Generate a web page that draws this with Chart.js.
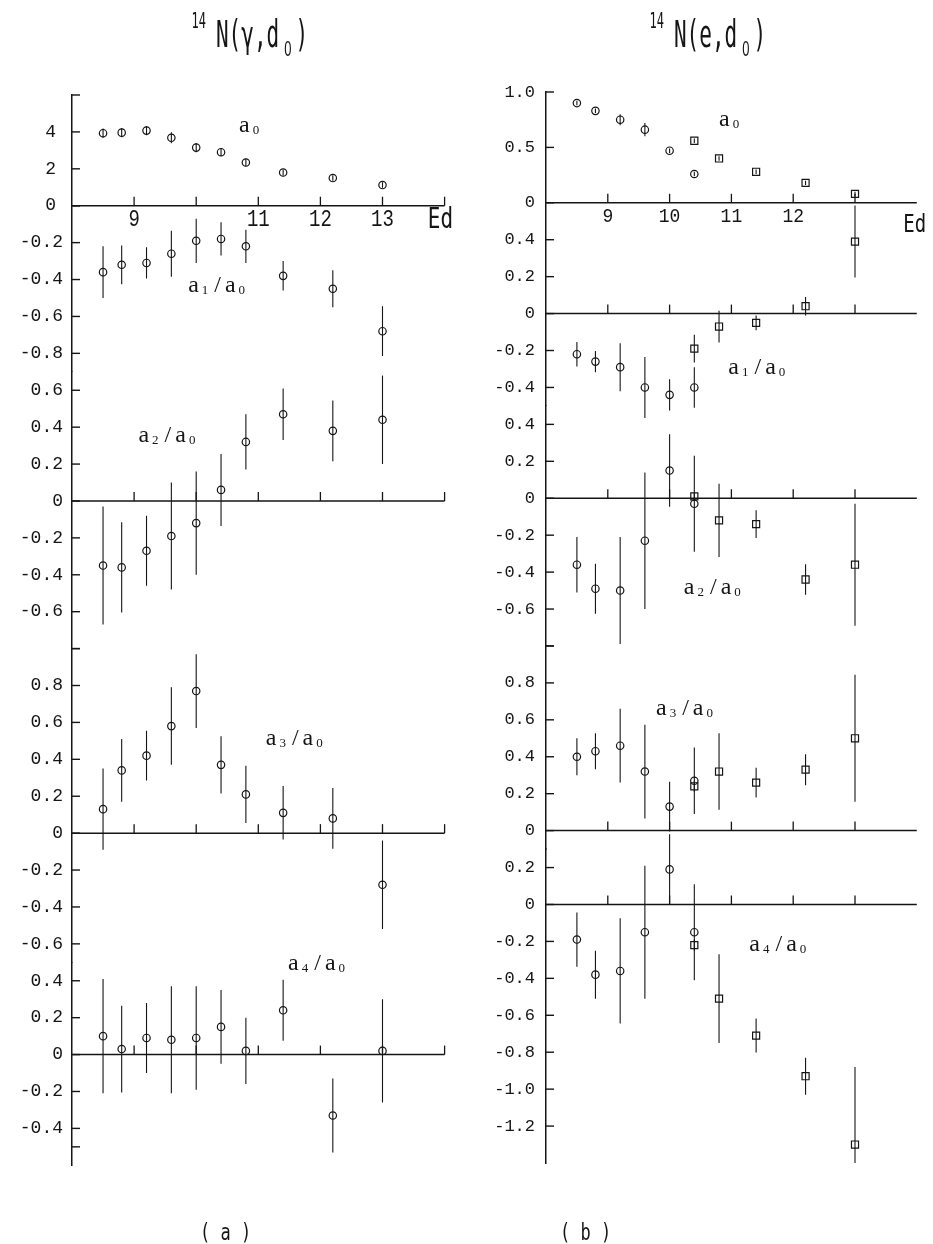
<!DOCTYPE html>
<html>
<head>
<meta charset="utf-8">
<script src="https://cdn.jsdelivr.net/npm/chart.js@4/dist/chart.umd.min.js"></script>
<style>
  html, body { margin: 0; padding: 0; background: #fff; }
  #fig { position: relative; width: 933px; height: 1244px; overflow: hidden; background: #fff; }
  #fig canvas { position: absolute; top: 0; }
  #colA { left: 0; }
  #colB { left: 470px; }
  .cap { position: absolute; font-family: 'DejaVu Sans Mono', monospace; color: #151515; white-space: pre; line-height: 1; transform-origin: 0 0; }
  .title { font-size: 21px; top: 17px; transform: scaleY(1.75); }
  .title .sup { font-size: 12px; position: relative; top: -11px; margin-right: 10px; }
  .title .sub { font-family: 'Liberation Sans', sans-serif; font-size: 13px; position: relative; top: 5px; margin: 0 4px 0 5px; }
  .tag { font-size: 17px; top: 1220px; transform: scaleY(1.4); }
</style>
</head>
<body>
<div id="fig">
  <canvas id="colA" width="470" height="1244"></canvas>
  <canvas id="colB" width="463" height="1244"></canvas>
  <div class="cap title" style="left:191.5px"><span class="sup">14</span>N(γ,d<span class="sub">0</span>)</div>
  <div class="cap title" style="left:649.5px"><span class="sup">14</span>N(e,d<span class="sub">0</span>)</div>
  <div class="cap tag" style="left:200px">( a )</div>
  <div class="cap tag" style="left:560px">( b )</div>
</div>
<script>
// Legendre coefficients a0 and ak/a0 of the deuteron angular distributions,
// plotted against the deuteron energy Ed (MeV).

const energyTicks = [9, 10, 11, 12, 13];
const gammaEnergyLabels = ['9', '', '11', '12', '13'];
const electronEnergyLabels = ['9', '10', '11', '12', ''];

// 14N(γ,d0)
const gammaEd = [8.5, 8.8, 9.2, 9.6, 10.0, 10.4, 10.8, 11.4, 12.2, 13.0];
const gammaA0 = [3.93, 3.96, 4.07, 3.68, 3.15, 2.90, 2.34, 1.80, 1.50, 1.12];
const gammaA0Err = [0.25, 0.25, 0.25, 0.30, 0.25, 0.20, 0.20, 0.15, 0.15, 0.15];
const gammaA1 = [-0.36, -0.32, -0.31, -0.26, -0.19, -0.18, -0.22, -0.38, -0.45, -0.68];
const gammaA1Err = [0.14, 0.105, 0.085, 0.125, 0.12, 0.09, 0.09, 0.08, 0.10, 0.135];
const gammaA2 = [-0.35, -0.36, -0.27, -0.19, -0.12, 0.06, 0.32, 0.47, 0.38, 0.44];
const gammaA2Err = [0.32, 0.245, 0.19, 0.29, 0.28, 0.195, 0.15, 0.14, 0.165, 0.24];
const gammaA3 = [0.13, 0.34, 0.42, 0.58, 0.77, 0.37, 0.21, 0.11, 0.08, -0.28];
const gammaA3Err = [0.22, 0.17, 0.135, 0.21, 0.20, 0.155, 0.155, 0.145, 0.165, 0.24];
const gammaA4 = [0.10, 0.03, 0.09, 0.08, 0.09, 0.15, 0.02, 0.24, -0.33, 0.02];
const gammaA4Err = [0.31, 0.235, 0.19, 0.29, 0.28, 0.20, 0.18, 0.165, 0.20, 0.28];

// 14N(e,d0): two data sets (circles and squares)
const electronEdCircle = [8.5, 8.8, 9.2, 9.6, 10.0, 10.4];
const electronEdSquare = [10.4, 10.8, 11.4, 12.2, 13.0];
const eA0Circle = [0.90, 0.83, 0.75, 0.66, 0.47, 0.26];
const eA0CircleErr = [0.02, 0.02, 0.05, 0.06, 0.02, 0.02];
const eA0Square = [0.56, 0.40, 0.28, 0.18, 0.08];
const eA0SquareErr = [0.02, 0.02, 0.02, 0.02, 0.02];
const eA1Circle = [-0.22, -0.26, -0.29, -0.40, -0.44, -0.40];
const eA1CircleErr = [0.066, 0.058, 0.13, 0.165, 0.085, 0.11];
const eA1Square = [-0.19, -0.07, -0.05, 0.04, 0.39];
const eA1SquareErr = [0.075, 0.086, 0.04, 0.05, 0.195];
const eA2Circle = [-0.36, -0.49, -0.50, -0.23, 0.15, -0.03];
const eA2CircleErr = [0.15, 0.135, 0.29, 0.37, 0.196, 0.26];
const eA2Square = [0.01, -0.12, -0.14, -0.44, -0.36];
const eA2SquareErr = [0.02, 0.198, 0.075, 0.083, 0.33];
const eA3Circle = [0.40, 0.43, 0.46, 0.32, 0.13, 0.27];
const eA3CircleErr = [0.10, 0.097, 0.20, 0.254, 0.135, 0.18];
const eA3Square = [0.24, 0.32, 0.26, 0.33, 0.50];
const eA3SquareErr = [0.03, 0.207, 0.08, 0.084, 0.344];
const eA4Circle = [-0.19, -0.38, -0.36, -0.15, 0.19, -0.15];
const eA4CircleErr = [0.147, 0.13, 0.285, 0.36, 0.19, 0.26];
const eA4Square = [-0.22, -0.51, -0.71, -0.93, -1.30];
const eA4SquareErr = [0.03, 0.24, 0.092, 0.10, 0.42];

// y ticks of each panel (blank label = tick mark only)
const gA0Ticks = [0, 2, 4, 6];
const gA0Labels = ['0', '2', '4', ''];
const gA1Ticks = [0, -0.2, -0.4, -0.6, -0.8];
const gA1Labels = ['', '-0.2', '-0.4', '-0.6', '-0.8'];
const gA2Ticks = [0.6, 0.4, 0.2, 0, -0.2, -0.4, -0.6, -0.8];
const gA2Labels = ['0.6', '0.4', '0.2', '0', '-0.2', '-0.4', '-0.6', ''];
const gA3Ticks = [1.0, 0.8, 0.6, 0.4, 0.2, 0, -0.2, -0.4, -0.6];
const gA3Labels = ['', '0.8', '0.6', '0.4', '0.2', '0', '-0.2', '-0.4', '-0.6'];
const gA4Ticks = [0.4, 0.2, 0, -0.2, -0.4, -0.5];
const gA4Labels = ['0.4', '0.2', '0', '-0.2', '-0.4', ''];

const eA0Ticks = [0, 0.5, 1.0];
const eA0Labels = ['0', '0.5', '1.0'];
const eA1Ticks = [0.4, 0.2, 0, -0.2, -0.4];
const eA1Labels = ['0.4', '0.2', '0', '-0.2', '-0.4'];
const eA2Ticks = [0.4, 0.2, 0, -0.2, -0.4, -0.6, -0.8];
const eA2Labels = ['0.4', '0.2', '0', '-0.2', '-0.4', '-0.6', ''];
const eA3Ticks = [1.0, 0.8, 0.6, 0.4, 0.2, 0];
const eA3Labels = ['', '0.8', '0.6', '0.4', '0.2', '0'];
const eA4Ticks = [0.2, 0, -0.2, -0.4, -0.6, -0.8, -1.0, -1.2];
const eA4Labels = ['0.2', '0', '-0.2', '-0.4', '-0.6', '-0.8', '-1.0', '-1.2'];

const ink = '#151515';
const circle = { pointStyle: 'circle', pointRadius: 3.7 };
const square = { pointStyle: 'rect', pointRadius: 5 };

const columnA = {
  canvas: 'colA', axisWidth: 72,
  padding: { left: 0, top: 95, right: 25.4, bottom: 78.7 },
  tickFont: 18, tickPad: 9, endTick: true,
  xLabels: gammaEnergyLabels, xLabelFont: 19, xLabelStretch: 1.3, xLabelDrop: 20.7,
  ed: { at: 13.73, drop: 22.3, font: 21, stretch: 1.35 },
  panels: [
    { id: 'a0', min: 0, max: 6, weight: 0.6, pad: 16, ticks: gA0Ticks, labels: gA0Labels, zeroLine: true,
      name: 'a_0', nameAt: [10.69, 4.02],
      series: [{ x: gammaEd, y: gammaA0, err: gammaA0Err, mark: circle }] },
    { id: 'a1', min: -0.9, max: 0, weight: 0.9, ticks: gA1Ticks, labels: gA1Labels, zeroLine: false,
      name: 'a_1/a_0', nameAt: [9.87, -0.469],
      series: [{ x: gammaEd, y: gammaA1, err: gammaA1Err, mark: circle }] },
    { id: 'a2', min: -0.8, max: 0.7, weight: 1.5, ticks: gA2Ticks, labels: gA2Labels, zeroLine: true,
      name: 'a_2/a_0', nameAt: [9.07, 0.319],
      series: [{ x: gammaEd, y: gammaA2, err: gammaA2Err, mark: circle }] },
    { id: 'a3', min: -0.7, max: 1.0, weight: 1.7, ticks: gA3Ticks, labels: gA3Labels, zeroLine: true,
      name: 'a_3/a_0', nameAt: [11.12, 0.477],
      series: [{ x: gammaEd, y: gammaA3, err: gammaA3Err, mark: circle }] },
    { id: 'a4', min: -0.6, max: 0.5, weight: 1.1, ticks: gA4Ticks, labels: gA4Labels, zeroLine: true,
      name: 'a_4/a_0', nameAt: [11.48, 0.459],
      series: [{ x: gammaEd, y: gammaA4, err: gammaA4Err, mark: circle }] }
  ]
};

const columnB = {
  canvas: 'colB', axisWidth: 76,
  padding: { left: 0, top: 92, right: 16.2, bottom: 81 },
  tickFont: 17, tickPad: 11, endTick: false,
  xLabels: electronEnergyLabels, xLabelFont: 18, xLabelStretch: 1.12, xLabelDrop: 19.7,
  ed: { at: 13.78, drop: 29.4, font: 19, stretch: 1.3 },
  panels: [
    { id: 'a0', min: 0, max: 1.0, weight: 0.6, ticks: eA0Ticks, labels: eA0Labels, zeroLine: true,
      name: 'a_0', nameAt: [10.80, 0.69],
      series: [{ x: electronEdCircle, y: eA0Circle, err: eA0CircleErr, mark: circle },
               { x: electronEdSquare, y: eA0Square, err: eA0SquareErr, mark: square }] },
    { id: 'a1', min: -0.5, max: 0.6, weight: 1.1, ticks: eA1Ticks, labels: eA1Labels, zeroLine: true,
      name: 'a_1/a_0', nameAt: [10.95, -0.326],
      series: [{ x: electronEdCircle, y: eA1Circle, err: eA1CircleErr, mark: circle },
               { x: electronEdSquare, y: eA1Square, err: eA1SquareErr, mark: square }] },
    { id: 'a2', min: -0.8, max: 0.5, weight: 1.3, ticks: eA2Ticks, labels: eA2Labels, zeroLine: true,
      name: 'a_2/a_0', nameAt: [10.23, -0.516],
      series: [{ x: electronEdCircle, y: eA2Circle, err: eA2CircleErr, mark: circle },
               { x: electronEdSquare, y: eA2Square, err: eA2SquareErr, mark: square }] },
    { id: 'a3', min: -0.1, max: 1.0, weight: 1.1, ticks: eA3Ticks, labels: eA3Labels, zeroLine: true,
      name: 'a_3/a_0', nameAt: [9.78, 0.625],
      series: [{ x: electronEdCircle, y: eA3Circle, err: eA3CircleErr, mark: circle },
               { x: electronEdSquare, y: eA3Square, err: eA3SquareErr, mark: square }] },
    { id: 'a4', min: -1.4, max: 0.3, weight: 1.7, ticks: eA4Ticks, labels: eA4Labels, zeroLine: true,
      name: 'a_4/a_0', nameAt: [11.29, -0.254],
      series: [{ x: electronEdCircle, y: eA4Circle, err: eA4CircleErr, mark: circle },
               { x: electronEdSquare, y: eA4Square, err: eA4SquareErr, mark: square }] }
  ]
};

// "a_1/a_0" style labels: '_' marks the next character as a subscript
function drawCoefficientName(ctx, text, x, y) {
  let cx = x;
  ctx.textAlign = 'left';
  ctx.textBaseline = 'alphabetic';
  for (let i = 0; i < text.length; i++) {
    let ch = text[i];
    let sub = false;
    if (ch === '_') { sub = true; ch = text[++i]; }
    ctx.font = sub ? "13px 'Liberation Serif', serif" : "24px 'Liberation Serif', serif";
    if (sub) cx += 3;
    if (ch === '/') cx += 3;
    ctx.fillText(ch, cx, y + (sub ? 2 : 0));
    cx += ctx.measureText(ch).width;
    if (sub) cx += 3;
    if (ch === '/') cx += 4;
  }
}

function stretchedText(ctx, text, x, y, font, stretch, align) {
  ctx.save();
  ctx.translate(x, y);
  ctx.scale(1, stretch);
  ctx.font = font;
  ctx.textAlign = align;
  ctx.textBaseline = 'alphabetic';
  ctx.fillText(text, 0, 0);
  ctx.restore();
}

function decorations(col) {
  return {
    id: 'decorations',
    afterDatasetsDraw(chart) {
      const ctx = chart.ctx;
      const area = chart.chartArea;
      ctx.save();
      // error bars stop at the ends of the axis
      ctx.beginPath();
      ctx.rect(area.left, area.top, area.right - area.left, area.bottom - area.top);
      ctx.clip();
      ctx.strokeStyle = ink;
      ctx.lineWidth = 1.1;
      chart.data.datasets.forEach((ds, i) => {
        const meta = chart.getDatasetMeta(i);
        const ys = chart.scales[ds.yAxisID];
        meta.data.forEach((pt, j) => {
          const v = ds.data[j].y, e = ds.errors[j];
          ctx.beginPath();
          ctx.moveTo(pt.x, ys.getPixelForValue(v + e));
          ctx.lineTo(pt.x, ys.getPixelForValue(v - e));
          ctx.stroke();
        });
      });
      ctx.restore();
    },
    afterDraw(chart) {
      const ctx = chart.ctx;
      const xs = chart.scales.x;
      const area = chart.chartArea;
      ctx.save();
      ctx.strokeStyle = ink;
      ctx.fillStyle = ink;
      col.panels.forEach(p => {
        const ys = chart.scales[p.id];
        // inward tick marks on the vertical axis
        ctx.lineWidth = 1.4;
        ys.ticks.forEach(t => {
          const y = ys.getPixelForValue(t.value);
          ctx.beginPath();
          ctx.moveTo(area.left, y);
          ctx.lineTo(area.left + 8, y);
          ctx.stroke();
        });
        // energy axis through zero with upward ticks
        if (p.zeroLine) {
          const y0 = ys.getPixelForValue(0);
          ctx.lineWidth = 1.5;
          ctx.beginPath();
          ctx.moveTo(area.left, y0);
          ctx.lineTo(area.right, y0);
          ctx.stroke();
          ctx.lineWidth = 1.3;
          const tickXs = energyTicks.map(e => xs.getPixelForValue(e));
          if (col.endTick) tickXs.push(area.right);
          tickXs.forEach(x => {
            ctx.beginPath();
            ctx.moveTo(x, y0);
            ctx.lineTo(x, y0 - 9);
            ctx.stroke();
          });
        }
        const [nx, ny] = p.nameAt;
        drawCoefficientName(ctx, p.name, xs.getPixelForValue(nx), ys.getPixelForValue(ny));
      });
      // energy labels under the a0 panel
      const top = chart.scales[col.panels[0].id];
      const base = top.getPixelForValue(0);
      energyTicks.forEach((e, i) => {
        const label = col.xLabels[i];
        if (label) stretchedText(ctx, label, xs.getPixelForValue(e), base + col.xLabelDrop,
                                 col.xLabelFont + "px 'Liberation Mono', monospace", col.xLabelStretch, 'center');
      });
      stretchedText(ctx, 'Ed', xs.getPixelForValue(col.ed.at), base + col.ed.drop,
                    col.ed.font + "px 'DejaVu Sans Mono', monospace", col.ed.stretch, 'left');
      ctx.restore();
    }
  };
}

function buildColumn(col) {
  const scales = { x: { type: 'linear', min: 8, max: 14, display: false } };
  const datasets = [];
  col.panels.forEach((p, k) => {
    scales[p.id] = {
      type: 'linear', axis: 'y', position: 'left',
      stack: 'column', stackWeight: p.weight, weight: col.panels.length - k,
      min: p.min, max: p.max,
      grid: { display: false, drawTicks: false },
      border: { display: true, color: ink, width: 1.5 },
      afterBuildTicks: s => { s.ticks = p.ticks.map(v => ({ value: v })); },
      afterFit: s => { s.width = col.axisWidth; },
      ticks: {
        autoSkip: false, color: ink,
        padding: p.pad || col.tickPad,
        font: { family: "'Liberation Mono', monospace", size: col.tickFont },
        callback: (v, i) => p.labels[i]
      }
    };
    p.series.forEach(s => {
      datasets.push({
        data: s.x.map((e, i) => ({ x: e, y: s.y[i] })),
        errors: s.err,
        yAxisID: p.id,
        showLine: false,
        pointStyle: s.mark.pointStyle,
        pointRadius: s.mark.pointRadius,
        pointBorderWidth: 1.2,
        pointBorderColor: ink,
        pointBackgroundColor: 'rgba(0,0,0,0)'
      });
    });
  });
  return new Chart(document.getElementById(col.canvas), {
    type: 'scatter',
    data: { datasets },
    options: {
      responsive: false,
      animation: false,
      events: [],
      layout: { padding: col.padding },
      scales,
      plugins: { legend: { display: false }, tooltip: { enabled: false } }
    },
    plugins: [decorations(col)]
  });
}

buildColumn(columnA);
buildColumn(columnB);
</script>
</body>
</html>
